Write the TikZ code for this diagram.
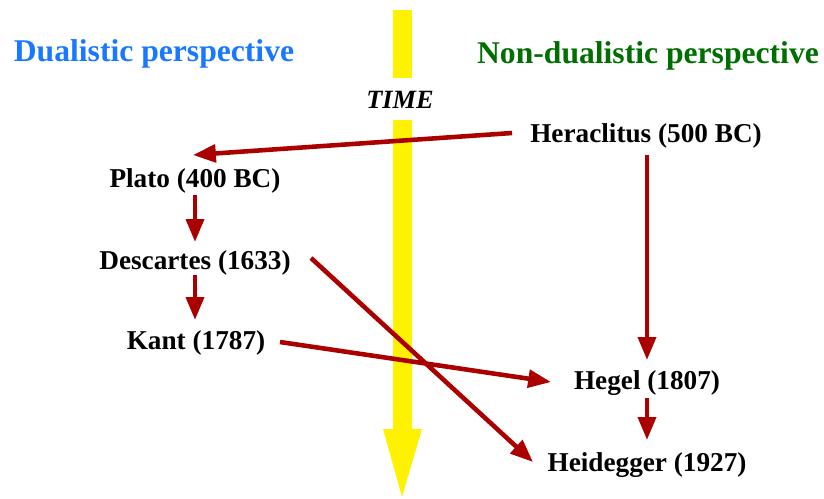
\documentclass[tikz,border=0pt]{standalone}
\usepackage{fontspec}
\setmainfont{Liberation Serif}
\usetikzlibrary{calc, arrows.meta}
\definecolor{dualblue}{RGB}{25,120,255}
\definecolor{nondualgreen}{RGB}{0,110,0}
\definecolor{linkred}{RGB}{170,0,0}
\tikzset{
  thinker/.style={inner sep=0pt, font=\fontsize{15.5}{18}\selectfont\bfseries},
  view/.style={inner sep=0pt, font=\fontsize{18}{21}\selectfont\bfseries},
  link/.style={linkred, line width=2.6pt, -{Triangle[length=13pt, width=10pt]}}
}

\begin{document}
\begin{tikzpicture}[x=0.02cm, y=-0.02cm]
\useasboundingbox (0,0) rectangle (824,498);
% time axis
\fill[yellow] (393,10) rectangle (412,78);
\fill[yellow] (393,120) -- (393,429) -- (383,429) -- (402,497) -- (422,429) -- (412,429) -- (412,120) -- cycle;
\node[inner sep=0pt, font=\fontsize{15}{18}\selectfont\bfseries\itshape] (time) at (400,100) {TIME};
% headings
\node[view, text=dualblue] (dual) at (154,54) {Dualistic perspective};
\node[view, text=nondualgreen] (nondual) at (648,56) {Non-dualistic perspective};
% thinkers
\node[thinker] (her) at (646,136) {Heraclitus (500 BC)};
\node[thinker] (plato) at (195,181) {Plato (400 BC)};
\node[thinker] (desc) at (195,263) {Descartes (1633)};
\node[thinker] (kant) at (196,343) {Kant (1787)};
\node[thinker] (hegel) at (647,383) {Hegel (1807)};
\node[thinker] (heid) at (647,465) {Heidegger (1927)};
% influences
\draw[link] ($(her)+(-134,-3)$) -- ($(plato)+(-2,-26)$);
\draw[link] ($(plato)+(0,14)$) -- ($(desc)+(0,-21)$);
\draw[link] ($(desc)+(0,12)$) -- ($(kant)+(-1,-23)$);
\draw[link] ($(her)+(1,19)$) -- ($(hegel)+(0,-23)$);
\draw[link] ($(hegel)+(0,15)$) -- ($(heid)+(0,-25)$);
\draw[link] ($(desc)+(116,-5)$) -- ($(heid)+(-114,-3)$);
\draw[link] ($(kant)+(84,-1)$) -- ($(hegel)+(-96,-1)$);
\end{tikzpicture}
\end{document}
